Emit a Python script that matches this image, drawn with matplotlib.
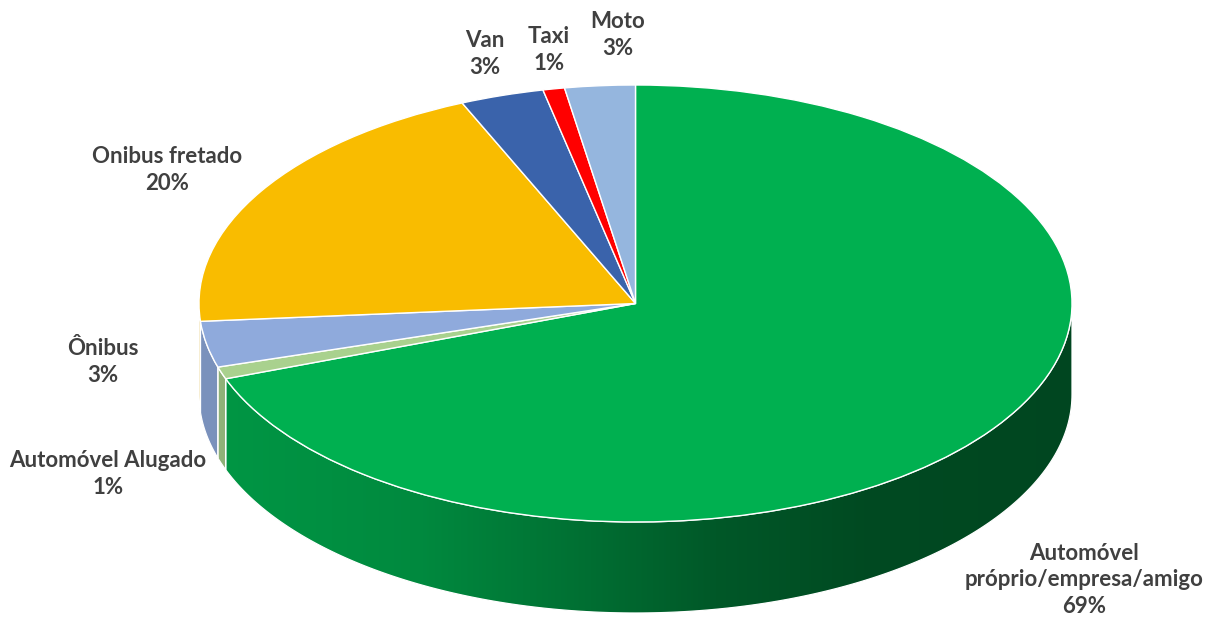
import numpy as np
import matplotlib
matplotlib.use("Agg")
import matplotlib.pyplot as plt
from matplotlib.patches import Polygon
from matplotlib.colors import to_rgb

# ---- data -------------------------------------------------------------
categories = [
    "Automóvel\npróprio/empresa/amigo",
    "Automóvel Alugado",
    "Ônibus",
    "Onibus fretado",
    "Van",
    "Taxi",
    "Moto",
]
shares = [69.4, 0.9, 3.4, 19.8, 3.1, 0.8, 2.6]   # percent of trips
colors = ["#00B050", "#A9D18E", "#8FAADC", "#F9BC00", "#3A63AB", "#FF0000", "#95B6DE"]

# ---- layout (pixels) ----------------------------------------------------
W, H = 1206, 621
CX, CY = 635.5, 303.5      # centre of the top face
RX, RY = 436.5, 218.5      # half-axes of the top ellipse
DEPTH = 91.0               # thickness of the disc

label_pos = [(1084, 580), (108, 474), (103, 362), (167, 170),
             (485, 54), (549, 50), (618, 35)]

fig = plt.figure(figsize=(W / 100, H / 100), dpi=100)
ax = fig.add_axes([0, 0, 1, 1])

# data units: one unit = one pie radius along each axis
xlim = ((0 - CX) / RX, (W - CX) / RX)
ylim = ((CY - H) / RY, (CY - 0) / RY)
d = DEPTH / RY

# side shading: darker towards the right of the disc
shade_x = np.array([199, 420, 575, 715, 865, 1072], float)
shade_f = np.array([0.86, 0.78, 0.64, 0.50, 0.42, 0.40])

# ---- outer walls of the front half --------------------------------------
vals = np.asarray(shares, float)
cum = np.concatenate([[0], np.cumsum(vals) / vals.sum()])
for i, col in enumerate(colors):
    a_hi = 90 - 360 * cum[i]
    a_lo = 90 - 360 * cum[i + 1]
    lo, hi = max(a_lo, -180), min(a_hi, 0)
    if hi <= lo:
        continue
    t = np.radians(np.linspace(lo, hi, 200))
    top = np.column_stack([np.cos(t), np.sin(t)])
    bot = np.column_stack([np.cos(t), np.sin(t) - d])[::-1]
    verts = np.vstack([top, bot])
    poly = Polygon(verts, closed=True, transform=ax.transData,
                   facecolor="none", edgecolor="white", linewidth=0.9, zorder=2)
    ax.add_patch(poly)

    x0, x1 = verts[:, 0].min(), verts[:, 0].max()
    y0, y1 = verts[:, 1].min(), verts[:, 1].max()
    xs_px = np.linspace(CX + x0 * RX, CX + x1 * RX, 300)
    f = np.interp(xs_px, shade_x, shade_f)
    base = np.array(to_rgb(col))
    grad = np.clip(base[None, :] * f[:, None], 0, 1)[None, :, :]
    im = ax.imshow(grad, extent=(x0, x1, y0, y1), aspect="auto",
                   interpolation="bilinear", zorder=1)
    im.set_clip_path(poly)

# ---- top face -------------------------------------------------------------
wedges, _ = ax.pie(vals, colors=colors, startangle=90, counterclock=False,
                   radius=1, center=(0, 0),
                   wedgeprops=dict(edgecolor="white", linewidth=1.0, zorder=3))

ax.set_aspect("auto")
ax.set_xlim(*xlim)
ax.set_ylim(*ylim)
ax.axis("off")

# ---- labels ---------------------------------------------------------------
for name, v, (lx, ly) in zip(categories, vals, label_pos):
    fig.text(lx / W, 1 - ly / H, f"{name}\n{v / vals.sum() * 100:.0f}%",
             ha="center", va="center", fontsize=16, fontweight="bold",
             family="Lato", color="#404040", linespacing=1.33)

fig.savefig("out.png", dpi=100, facecolor="white")
